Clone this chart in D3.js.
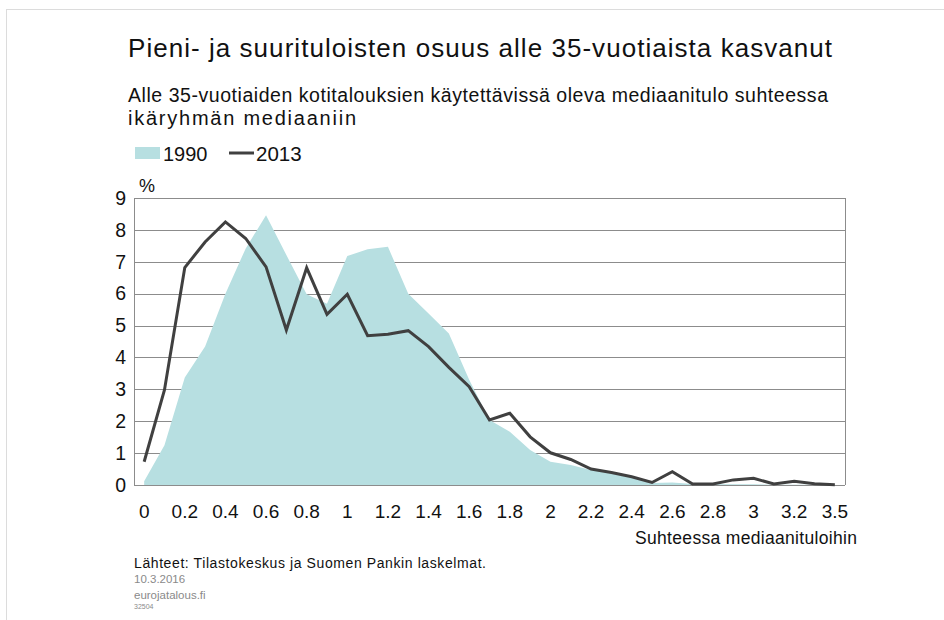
<!doctype html>
<html>
<head>
<meta charset="utf-8">
<style>
  body { margin: 0; background: #fff; }
  svg { display: block; font-family: "Liberation Sans", Arial, sans-serif; }
</style>
<script src="https://d3js.org/d3.v7.min.js"></script>
</head>
<body>
<svg width="944" height="620"></svg>
<script>
// categories: income relative to median (last one is 3.5)
var categories = ["0","0.1","0.2","0.3","0.4","0.5","0.6","0.7","0.8","0.9",
                  "1","1.1","1.2","1.3","1.4","1.5","1.6","1.7","1.8","1.9",
                  "2","2.1","2.2","2.3","2.4","2.5","2.6","2.7","2.8","2.9",
                  "3","3.1","3.2","3.3","3.5"];
var tickLabels = ["0","0.2","0.4","0.6","0.8","1","1.2","1.4","1.6","1.8",
                  "2","2.2","2.4","2.6","2.8","3","3.2","3.5"];
var values1990 = [0.12, 1.25, 3.37, 4.34, 6.0, 7.42, 8.46, 7.21, 5.98, 5.68,
                  7.18, 7.39, 7.47, 6.0, 5.38, 4.75, 3.3, 2.04, 1.67, 1.1,
                  0.73, 0.63, 0.47, 0.42, 0.26, 0.06, 0.08, 0.03, 0.02, 0.02,
                  0.02, 0.01, 0.01, 0.01, 0.0];
var values2013 = [0.73, 2.98, 6.82, 7.62, 8.25, 7.73, 6.84, 4.86, 6.81, 5.35,
                  5.98, 4.68, 4.73, 4.84, 4.34, 3.69, 3.08, 2.04, 2.25, 1.51,
                  1.01, 0.80, 0.50, 0.39, 0.26, 0.08, 0.42, 0.03, 0.03, 0.16,
                  0.21, 0.03, 0.12, 0.04, 0.01];
var yTicks = [0,1,2,3,4,5,6,7,8,9];

var svg = d3.select("svg");
var plotL = 134, plotR = 845, plotT = 198, plotB = 485;

// outer light frame
svg.append("rect")
   .attr("x", 6.5).attr("y", 9.5)
   .attr("width", 960).attr("height", 640)
   .attr("fill", "none").attr("stroke", "#dcdcdc");

svg.append("text")
   .attr("x", 128).attr("y", 57)
   .attr("font-size", "26px").attr("fill", "#111")
   .attr("textLength", 704)
   .text("Pieni- ja suurituloisten osuus alle 35-vuotiaista kasvanut");

svg.append("text")
   .attr("x", 128).attr("y", 102)
   .attr("font-size", "19.5px").attr("fill", "#111")
   .attr("textLength", 700)
   .text("Alle 35-vuotiaiden kotitalouksien käytettävissä oleva mediaanitulo suhteessa");
svg.append("text")
   .attr("x", 128).attr("y", 125)
   .attr("font-size", "20px").attr("fill", "#111")
   .attr("textLength", 228)
   .text("ikäryhmän mediaaniin");

// legend
svg.append("rect").attr("x", 135).attr("y", 147).attr("width", 25).attr("height", 12)
   .attr("fill", "#b7dfe1");
svg.append("text").attr("x", 163).attr("y", 161).attr("font-size", "20px").attr("fill", "#111").text("1990");
svg.append("line").attr("x1", 229).attr("x2", 254).attr("y1", 153).attr("y2", 153)
   .attr("stroke", "#404040").attr("stroke-width", 3);
svg.append("text").attr("x", 256).attr("y", 161).attr("font-size", "20.5px").attr("fill", "#111").text("2013");

var x = d3.scaleBand().domain(categories).range([plotL, plotR]);
var y = d3.scaleLinear().domain([0, 9]).range([plotB, plotT]);
function cx(d, i) { return x(categories[i]) + x.bandwidth() / 2; }

// gridlines
svg.append("g").selectAll("line").data(yTicks).enter().append("line")
   .attr("x1", plotL).attr("x2", plotR)
   .attr("y1", function(d) { return Math.round(y(d)) + 0.5; })
   .attr("y2", function(d) { return Math.round(y(d)) + 0.5; })
   .attr("stroke", "#8c8c8c").attr("stroke-width", 1);

// 1990 area
svg.append("path").datum(values1990)
   .attr("fill", "#b7dfe1")
   .attr("d", d3.area().x(cx).y0(y(0)).y1(function(d) { return y(d); }));

// frame lines
svg.append("line").attr("x1", plotR + 0.5).attr("x2", plotR + 0.5)
   .attr("y1", plotT).attr("y2", plotB).attr("stroke", "#8c8c8c");
svg.append("line").attr("x1", plotL + 0.5).attr("x2", plotL + 0.5)
   .attr("y1", plotT).attr("y2", plotB).attr("stroke", "#8c8c8c");
svg.append("line").attr("x1", plotL).attr("x2", plotR)
   .attr("y1", Math.round(y(0)) + 0.5).attr("y2", Math.round(y(0)) + 0.5)
   .attr("stroke", "#8c8c8c");

// 2013 line
svg.append("path").datum(values2013)
   .attr("fill", "none").attr("stroke", "#404040").attr("stroke-width", 3)
   .attr("d", d3.line().x(cx).y(function(d) { return y(d); }));

// y axis labels
var yAxis = svg.append("g")
   .attr("transform", "translate(" + plotL + ",0)")
   .call(d3.axisLeft(y).tickValues(yTicks).tickSize(0).tickPadding(8).tickFormat(d3.format("d")));
yAxis.select(".domain").remove();
yAxis.selectAll("text").attr("font-size", "19.5px").attr("fill", "#111")
   .attr("font-family", "Liberation Sans, Arial, sans-serif");

svg.append("text").attr("x", 139).attr("y", 192).attr("font-size", "18px").attr("fill", "#111").text("%");

// x axis labels
var shown = categories.filter(function(c, i) { return i % 2 === 0; });
var xAxis = svg.append("g")
   .attr("transform", "translate(0," + plotB + ")")
   .call(d3.axisBottom(x).tickValues(shown).tickSize(0).tickPadding(20)
        .tickFormat(function(c) { return tickLabels[shown.indexOf(c)]; }));
xAxis.select(".domain").remove();
xAxis.selectAll("text").attr("font-size", "19px").attr("fill", "#111")
   .attr("font-family", "Liberation Sans, Arial, sans-serif");

svg.append("text").attr("x", 857).attr("y", 544).attr("text-anchor", "end")
   .attr("font-size", "17.5px").attr("fill", "#111")
   .attr("textLength", 222)
   .text("Suhteessa mediaanituloihin");

// footer
svg.append("text").attr("x", 134).attr("y", 568).attr("font-size", "14px").attr("fill", "#111")
   .attr("textLength", 352)
   .text("Lähteet: Tilastokeskus ja Suomen Pankin laskelmat.");
svg.append("text").attr("x", 134).attr("y", 583).attr("font-size", "11.5px").attr("fill", "#8a8a8a")
   .text("10.3.2016");
svg.append("text").attr("x", 134).attr("y", 599).attr("font-size", "11.5px").attr("fill", "#8a8a8a")
   .text("eurojatalous.fi");
svg.append("text").attr("x", 134).attr("y", 609).attr("font-size", "7px").attr("fill", "#8a8a8a")
   .text("32504");
</script>
</body>
</html>
